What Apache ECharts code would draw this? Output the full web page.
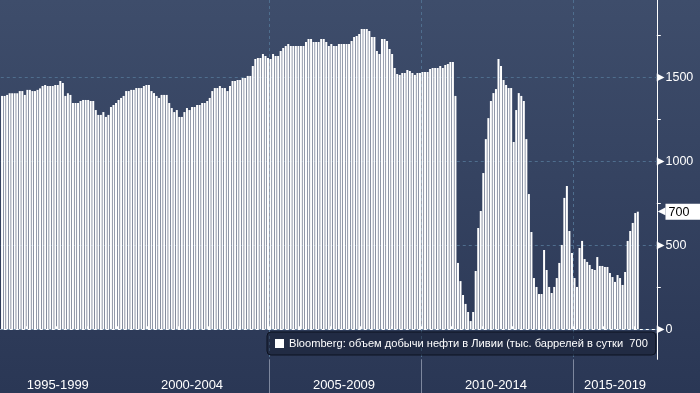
<!DOCTYPE html>
<html><head><meta charset="utf-8">
<script src="https://cdn.jsdelivr.net/npm/echarts@6/dist/echarts.min.js"></script>
<style>html,body{margin:0;padding:0;background:#2b3856}#c{width:700px;height:393px}</style>
</head><body><div id="c"></div>
<script>
// ---- data ----
const firstMonth = [1996, 3];   // first category (year, month)
const lastMonth = [2017, 9];    // last category on the axis
const production = [
  // 1996-03 .. 1999-12
  1389,1389,1395,1405,1405,1405,1405,1418,1418,1395,
  1425,1425,1418,1418,1425,1434,1448,1454,1448,1448,
  1448,1454,1454,1478,1466,1389,1405,1395,1347,1347,
  1347,1359,1365,1365,1365,1359,1359,1305,1276,1276,
  1293,1264,1276,1323,1335,1347,
  // 2000
  1365,1377,1389,1418,1418,1425,1425,1436,1436,1436,1448,1454,
  // 2001
  1454,1418,1406,1389,1377,1395,1395,1395,1347,1317,1293,1305,
  // 2002
  1264,1264,1293,1317,1305,1323,1323,1335,1335,1347,1347,1359,
  // 2003
  1377,1418,1436,1436,1448,1436,1436,1418,1448,1478,1478,1484,
  // 2004
  1484,1496,1496,1508,1508,1567,1609,1615,1615,1639,1627,1615,
  // 2005
  1609,1639,1627,1627,1657,1674,1686,1698,1686,1686,1686,1686,
  // 2006
  1686,1686,1710,1728,1728,1710,1710,1710,1728,1728,1710,1686,
  // 2007
  1698,1686,1686,1698,1698,1698,1698,1698,1716,1740,1746,1758,
  // 2008
  1787,1787,1787,1775,1740,1740,1657,1639,1728,1728,1716,1668,
  // 2009
  1639,1555,1520,1514,1525,1525,1543,1537,1525,1514,1525,1525,
  // 2010
  1531,1531,1531,1549,1555,1555,1555,1567,1555,1573,1579,1591,
  // 2011
  1591,1389,395,287,204,151,103,49,103,347,603,704,
  // 2012
  930,1132,1257,1359,1406,1430,1609,1567,1484,1454,1436,1436,
  // 2013
  1115,1305,1406,1389,1359,1132,805,579,305,252,210,210,
  // 2014
  472,353,252,216,252,305,395,502,782,853,585,454,
  // 2015
  305,252,484,526,418,401,383,359,353,430,377,377,
  // 2016
  371,371,335,311,282,323,305,264,341,526,585,633,
  // 2017
  692,700
];
const periodLabels = ['1995-1999','2000-2004','2005-2009','2010-2014','2015-2019'];
const periodStartYears = [1995, 2000, 2005, 2010, 2015];
const yLabelValues = [0, 500, 1000, 1500];
const yMinorTicks = [250, 750, 1250, 1750];
const yGridValues = [0, 500, 1000, 1500];
const yMin = -178.6, yMax = 1960;
const seriesName = 'Bloomberg: объем добычи нефти в Ливии (тыс. баррелей в сутки';

// ---- build categories ----
const months = [];
for (let y = firstMonth[0], m = firstMonth[1]; y < lastMonth[0] || (y === lastMonth[0] && m <= lastMonth[1]); ) {
  months.push(y + '-' + String(m).padStart(2, '0'));
  m++; if (m > 12) { m = 1; y++; }
}
const yearOf = i => +months[i].slice(0, 4);
const isJan = i => months[i].endsWith('-01');
const is5 = i => isJan(i) && yearOf(i) % 5 === 0;

// label positions: middle category of each visible 5-year span
const labelAt = {};
periodStartYears.forEach((y0, p) => {
  const idx = months.map((s, i) => i).filter(i => yearOf(i) >= y0 && yearOf(i) <= y0 + 4);
  if (idx.length) labelAt[idx[Math.floor((idx.length - 1) / 2)]] = periodLabels[p];
});
const lastValue = production[production.length - 1];

const chart = echarts.init(document.getElementById('c'), null, {renderer: 'canvas'});
const FONT = 'Liberation Sans';
const GL = 0.78, GR = 43.2, AXIS_Y = 359.3;
chart.setOption({
  animation: false,
  backgroundColor: new echarts.graphic.LinearGradient(0, 0, 0, 1, [
    {offset: 0, color: '#3e4d6b'},
    {offset: 0.85, color: '#2d3a58'},
    {offset: 1, color: '#2a3755'}
  ]),
  grid: [
    {left: GL, right: GR, top: 0, bottom: 393 - AXIS_Y, containLabel: false, outerBoundsMode: 'none'},
    {left: GL, right: GR, top: AXIS_Y, bottom: 0, containLabel: false, outerBoundsMode: 'none'}
  ],
  legend: {
    show: true,
    data: [seriesName],
    left: 267, top: 332,
    padding: [6, 8, 6, 8],
    itemWidth: 9, itemHeight: 9, icon: 'rect',
    formatter: n => n + '  ' + lastValue,
    textStyle: {color: '#ffffff', fontSize: 11.1, fontFamily: FONT},
    backgroundColor: 'rgba(20,27,44,0.45)',
    borderColor: '#0d1320', borderWidth: 1, borderRadius: 4
  },
  xAxis: [{
    gridIndex: 0, type: 'category', data: months, boundaryGap: true,
    axisLine: {show: true, lineStyle: {color: '#ffffff', width: 1}},
    axisTick: {show: true, inside: true, length: 3, interval: i => isJan(i), lineStyle: {color: '#ffffff'}},
    axisLabel: {
      show: true, interval: i => labelAt[i] !== undefined,
      formatter: (v, i) => labelAt[i] || '',
      color: '#ffffff', fontSize: 13, fontFamily: FONT, margin: 20
    },
    splitLine: {show: true, interval: i => is5(i), showMinLine: false, showMaxLine: false,
      lineStyle: {color: '#4f6e8e', type: [3, 3], width: 1}}
  }, {
    gridIndex: 1, type: 'category', data: months, boundaryGap: true,
    axisLine: {show: false}, axisTick: {show: false}, axisLabel: {show: false},
    splitLine: {show: true, interval: i => is5(i), showMinLine: false, showMaxLine: false,
      lineStyle: {color: '#7d879e', width: 1}}
  }],
  yAxis: [{
    gridIndex: 0, type: 'value', position: 'right', min: yMin, max: yMax,
    axisLine: {show: true, lineStyle: {color: '#ffffff', width: 1}},
    axisTick: {show: true, customValues: yMinorTicks, length: 4, lineStyle: {color: '#ffffff'}},
    splitLine: {show: false},
    axisLabel: {
      show: true, customValues: yLabelValues.concat([lastValue]), margin: 0,
      formatter: v => v === lastValue ? '{ta|◀}{tb|' + v + '}' : '{arr|▶}{num|' + v + '}',
      rich: {
        arr: {color: '#ffffff', fontSize: 10, fontFamily: 'DejaVu Sans', padding: [0, 1, 0, 0]},
        num: {color: '#ffffff', fontSize: 12.5, fontFamily: FONT},
        ta: {color: '#ffffff', fontSize: 10, fontFamily: 'DejaVu Sans', padding: [0, 0, 0, 1]},
        tb: {color: '#000000', backgroundColor: '#ffffff', fontSize: 12.5, fontFamily: FONT, padding: [2, 16, 1, 3]}
      }
    }
  }, {
    gridIndex: 1, type: 'value', show: false, min: 0, max: 1,
    splitLine: {show: false}
  }],
  series: [{
    name: seriesName, type: 'bar', xAxisIndex: 0, yAxisIndex: 0, data: production,
    barWidth: 2, itemStyle: {color: '#ffffff'}, z: 3,
    markLine: {
      silent: true, symbol: 'none', z: 1, label: {show: false},
      lineStyle: {color: '#4f6e8e', type: [3, 3], width: 1},
      data: yGridValues.map(v => ({yAxis: v}))
    }
  }]
});
</script></body></html>
